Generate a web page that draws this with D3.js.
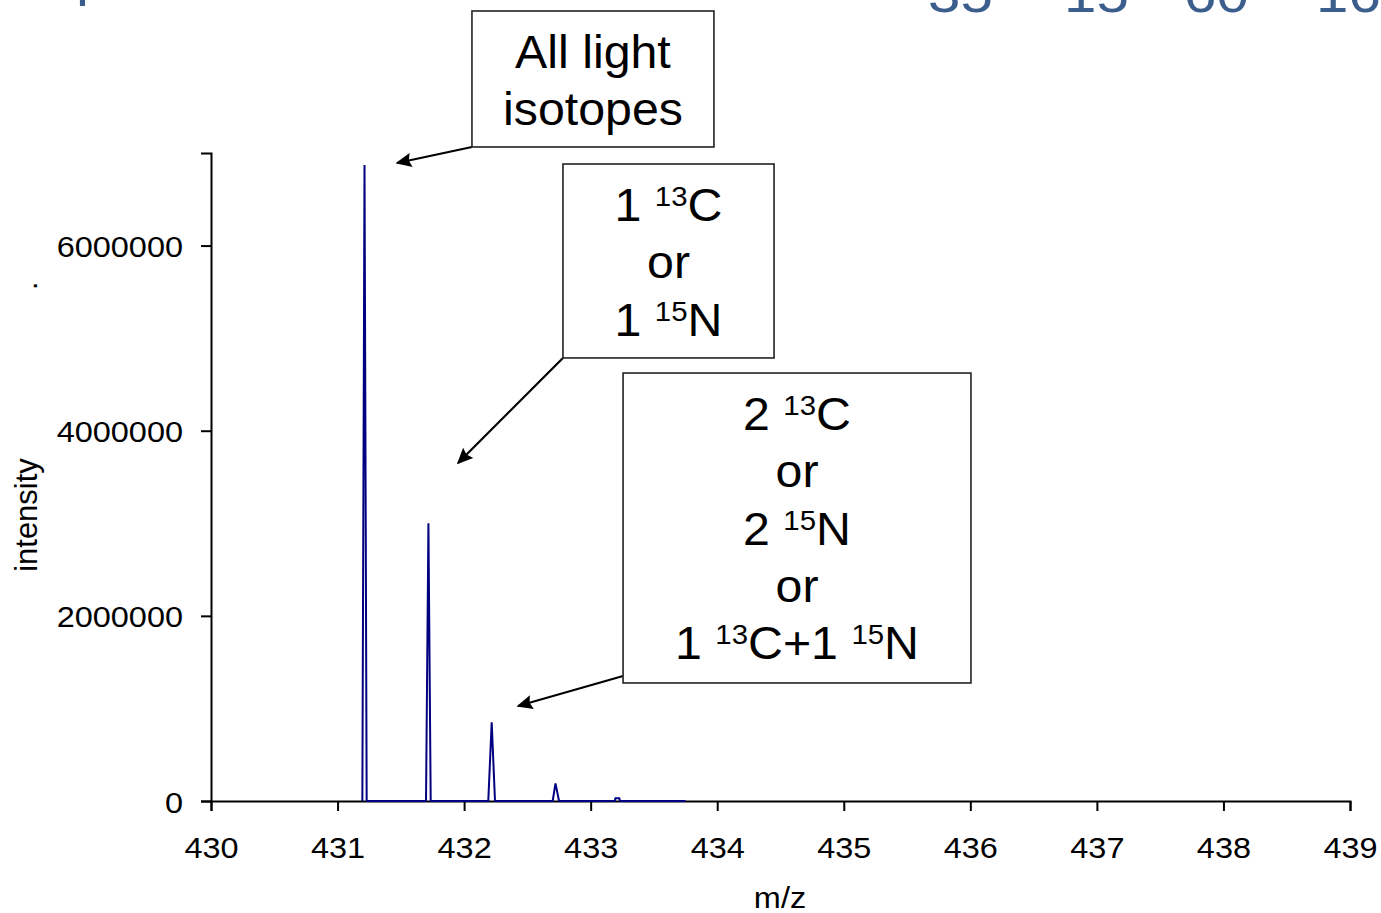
<!DOCTYPE html>
<html>
<head>
<meta charset="utf-8">
<script src="https://cdn.jsdelivr.net/npm/d3@7"></script>
<style>
  body { margin: 0; background: #fff; }
  svg { display: block; font-family: 'Liberation Sans', Arial, sans-serif; }
</style>
</head>
<body>
<div id="chart"></div>
<script>
// spectrum profile (m/z, intensity)
const mz = [431.196, 431.213, 431.230, 431.699, 431.718, 431.736, 432.191, 432.218, 432.244,
  432.700, 432.722, 432.750, 433.190, 433.196, 433.226, 433.232, 433.750]
const intensity = [0, 6870000, 0, 0, 3000000, 0, 0, 850000, 0,
  0, 190000, 0, 0, 30000, 30000, 0, 0]

const xTicks = [430, 431, 432, 433, 434, 435, 436, 437, 438, 439]
const yTicks = [0, 2000000, 4000000, 6000000]

// annotation boxes, in data units
const notes = [
  { x0: 432.062, x1: 433.974, y0: 8534000, y1: 7065000, from: [432.062, 7065000], to: [431.47, 6892000],
    lines: [[['All light']], [['isotopes']]] },
  { x0: 432.781, x1: 434.449, y0: 6881000, y1: 4786000, from: [432.781, 4786000], to: [431.952, 3651000],
    lines: [[['1 '], ['13', 1], ['C']], [['or']], [['1 '], ['15', 1], ['N']]] },
  { x0: 433.256, x1: 436.005, y0: 4623000, y1: 1275000, from: [433.256, 1350000], to: [432.426, 1026000],
    lines: [[['2 '], ['13', 1], ['C']], [['or']], [['2 '], ['15', 1], ['N']], [['or']],
      [['1 '], ['13', 1], ['C+1 '], ['15', 1], ['N']]] }
]

const W = 1381
const H = 913
const k = 1.12 // axis text looks horizontally stretched
const kNote = 1.05

const svg = d3.select('#chart').append('svg')
  .attr('width', W)
  .attr('height', H)

const x = d3.scaleLinear().domain([430, 439]).range([211, 1350])
const y = d3.scaleLinear().domain([0, 7000000]).range([801, 153])

// cut-off slide title at the very top
const title = [['p', 76, -5, 52], [',', 252, -7, 52], [',', 306, -7, 52],
  ['35', 928, 12, 52], ['15', 1064, 12, 52], ['60', 1184, 12, 52], ['16', 1316, 12, 52]]
svg.selectAll('.title')
  .data(title)
  .enter()
  .append('text')
  .attr('class', 'title')
  .attr('transform', d => `translate(${d[1]},${d[2]}) scale(${k},1)`)
  .attr('font-size', d => d[3])
  .attr('fill', '#3B5E8C')
  .text(d => d[0])

// axes
const xAxis = d3.axisBottom(x).tickValues(xTicks).tickSize(10).tickFormat(d3.format('d'))
const xg = svg.append('g')
  .attr('transform', `translate(0,${y(0)})`)
  .call(xAxis)
xg.select('.domain').attr('stroke', '#000').attr('stroke-width', 2)
xg.selectAll('.tick line').attr('stroke', '#000').attr('stroke-width', 2)
xg.selectAll('.tick text')
  .attr('y', 0)
  .attr('dy', 0)
  .attr('transform', `translate(0,57) scale(${k},1)`)
  .attr('font-size', 29)
  .attr('font-family', 'Liberation Sans, Arial, sans-serif')
  .attr('fill', '#000')

const yAxis = d3.axisLeft(y).tickValues(yTicks).tickSize(10).tickFormat(d3.format('d'))
const yg = svg.append('g')
  .attr('transform', `translate(${x(430)},0)`)
  .call(yAxis)
yg.select('.domain').attr('stroke', '#000').attr('stroke-width', 2)
yg.selectAll('.tick line').attr('stroke', '#000').attr('stroke-width', 2)
yg.selectAll('.tick text')
  .attr('x', 0)
  .attr('dy', 0)
  .attr('transform', `translate(-28,11) scale(${k},1)`)
  .attr('font-size', 29)
  .attr('font-family', 'Liberation Sans, Arial, sans-serif')
  .attr('fill', '#000')

// axis titles
svg.append('text')
  .attr('transform', `translate(780,908) scale(${k},1)`)
  .attr('text-anchor', 'middle')
  .attr('font-size', 29)
  .text('m/z')

svg.append('text')
  .attr('transform', 'translate(37,515) rotate(-90)')
  .attr('text-anchor', 'middle')
  .attr('font-size', 31)
  .text('intensity')

svg.append('text')
  .attr('transform', 'translate(37,290) rotate(-90)')
  .attr('font-size', 30)
  .text('.')

// spectrum
const points = mz.map((m, i) => [m, intensity[i]])
svg.append('path')
  .datum(points)
  .attr('fill', 'none')
  .attr('stroke', '#000080')
  .attr('stroke-width', 2)
  .attr('d', d3.line().x(d => x(d[0])).y(d => y(d[1])))

// arrowheads
svg.append('defs').append('marker')
  .attr('id', 'head')
  .attr('markerUnits', 'userSpaceOnUse')
  .attr('viewBox', '0 0 10 10')
  .attr('markerWidth', 22)
  .attr('markerHeight', 16)
  .attr('refX', 9)
  .attr('refY', 5)
  .attr('orient', 'auto')
  .append('path')
  .attr('d', 'M0,0.5 L10,5 L0,9.5 L1.5,5 z')
  .attr('fill', '#000')

svg.selectAll('.arrow')
  .data(notes)
  .enter()
  .append('line')
  .attr('class', 'arrow')
  .attr('x1', d => x(d.from[0]))
  .attr('y1', d => y(d.from[1]))
  .attr('x2', d => x(d.to[0]))
  .attr('y2', d => y(d.to[1]))
  .attr('stroke', '#000')
  .attr('stroke-width', 2.2)
  .attr('marker-end', 'url(#head)')

// boxes with text
const box = svg.selectAll('.note')
  .data(notes)
  .enter()
  .append('g')
  .attr('class', 'note')

box.append('rect')
  .attr('x', d => x(d.x0))
  .attr('y', d => y(d.y0))
  .attr('width', d => x(d.x1) - x(d.x0))
  .attr('height', d => y(d.y1) - y(d.y0))
  .attr('fill', '#fff')
  .attr('stroke', '#222')
  .attr('stroke-width', 1.6)

box.each(function(d) {
  const g = d3.select(this)
  const cx = (x(d.x0) + x(d.x1)) / 2
  d.lines.forEach((line, i) => {
    const t = g.append('text')
      .attr('transform', `translate(${cx},${y(d.y0) + 57 + i * 57.3}) scale(${kNote},1)`)
      .attr('text-anchor', 'middle')
      .attr('font-size', 46)
    let up = false
    line.forEach(seg => {
      const sp = t.append('tspan').text(seg[0])
      if (seg[1]) {
        sp.attr('font-size', 28).attr('dy', -15)
        up = true
      } else if (up) {
        sp.attr('dy', 15)
        up = false
      }
    })
  })
})
</script>
</body>
</html>
